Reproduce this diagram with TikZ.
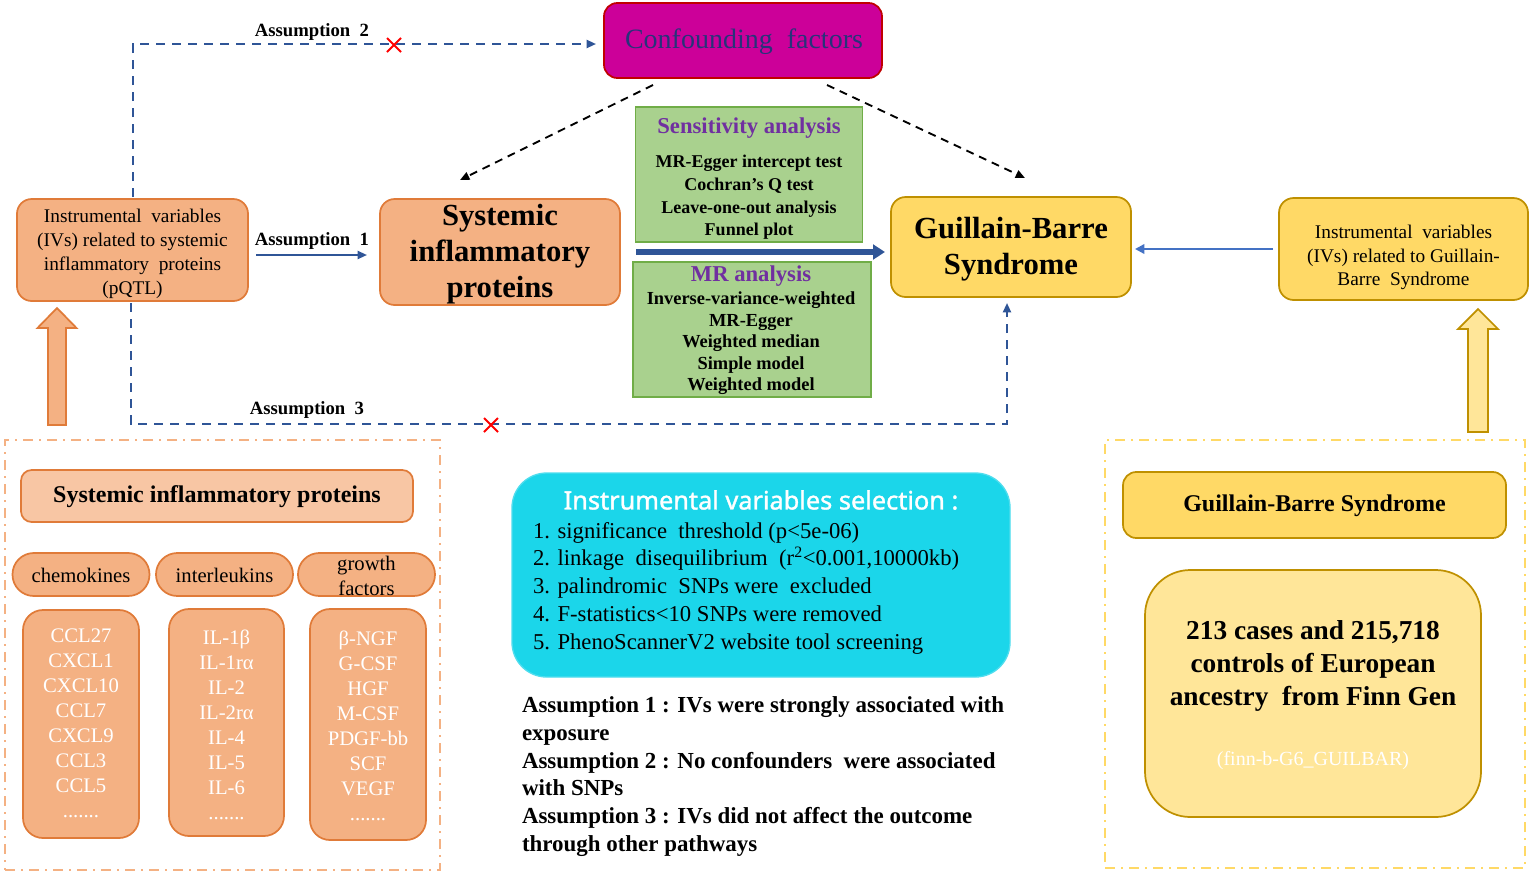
\documentclass[tikz,border=0pt]{standalone}
\usepackage{fontspec}
\setmainfont{Liberation Serif}
\newfontfamily\titlesans[AutoFakeBold=1.3]{Noto Sans}
\usetikzlibrary{arrows.meta,shapes.misc,calc}
\definecolor{orF}{HTML}{F4B183}
\definecolor{orD}{HTML}{E07B39}
\definecolor{orH}{HTML}{F8C6A4}
\definecolor{yeF}{HTML}{FFD966}
\definecolor{yeD}{HTML}{BF9000}
\definecolor{yeL}{HTML}{FFE699}
\definecolor{grF}{HTML}{A9D18E}
\definecolor{grD}{HTML}{70AD47}
\definecolor{cfF}{HTML}{CC0099}
\definecolor{cfD}{HTML}{C00000}
\definecolor{cfT}{HTML}{28337A}
\definecolor{puT}{HTML}{7030A0}
\definecolor{blD}{HTML}{2F5597}
\definecolor{blL}{HTML}{4472C4}
\definecolor{cyF}{HTML}{1BD6EA}
\definecolor{cyD}{HTML}{4FDDEE}
\begin{document}
\begin{tikzpicture}[x=0.75pt,y=-0.75pt,
  every node/.style={inner sep=0pt, outer sep=0pt},
  obox/.style={draw=orD, fill=orF, line width=1.3pt, rounded corners=11pt},
  ybox/.style={draw=yeD, fill=yeF, line width=1.3pt, rounded corners=11pt},
  gbox/.style={draw=grD, fill=grF, line width=1.3pt},
  dblue/.style={draw=blD, line width=1.5pt, dash pattern=on 7pt off 5pt},
  dblack/.style={draw=black, line width=1.4pt, dash pattern=on 6pt off 4.5pt, -{Triangle[length=7pt,width=6pt]}},
  dashdot/.style={line width=1.8pt, dash pattern=on 7.5pt off 4.5pt on 1.5pt off 4.5pt},
  xmark/.style={cross out, draw=red, line width=1.5pt, minimum size=10.5pt},
  lbl/.style={font=\bfseries\fontsize{14}{16}\selectfont},
  celltxt/.style={text=white, align=center, font=\fontsize{15.5}{18.75}\selectfont},
  pill/.style={obox, rounded corners=16pt, minimum width=102.75pt, minimum height=32.25pt},
  listbox/.style={obox, rounded corners=15pt, minimum width=87pt},
]
\useasboundingbox (0,0) rectangle (1535,879);

% ---------- top row ----------
\node[draw=cfD, fill=cfF, line width=1.3pt, rounded corners=10pt, minimum width=208.5pt, minimum height=56.25pt] (conf) at (743,40.5) {};
\node[text=cfT, font=\fontsize{21}{24}\selectfont] (conft) at (744,42) {Confounding\ \ factors};

\node[obox, minimum width=173.25pt, minimum height=76.5pt] (ivl) at (132.5,250) {};
\node[align=center, font=\fontsize{14.5}{18}\selectfont] (ivlt) at (132.5,253.5) {Instrumental\ \ variables\\(IVs) related to systemic\\inflammatory\ \ proteins\\(pQTL)};

\node[obox, minimum width=180pt, minimum height=79.5pt] (sip) at (500,252) {};
\node[align=center, font=\bfseries\fontsize{23}{27}\selectfont] (sipt) at (500,254) {Systemic\\inflammatory\\proteins};

\node[gbox, minimum width=170.25pt, minimum height=101.25pt] (sens) at (749,174.5) {};
\node[text=puT, font=\bfseries\fontsize{17}{20}\selectfont] (senst) at (749,128) {Sensitivity analysis};
\node[align=center, font=\bfseries\fontsize{13.5}{17}\selectfont] (sensl) at (749,197.5) {MR-Egger intercept test\\Cochran’s Q test\\Leave-one-out analysis\\Funnel plot};

\node[gbox, minimum width=178.5pt, minimum height=101.25pt] (mr) at (752,329.5) {};
\node[text=puT, font=\bfseries\fontsize{17}{20}\selectfont] (mrt) at (751,276) {MR analysis};
\node[align=center, font=\bfseries\fontsize{13.8}{16.1}\selectfont] (mrl) at (751,343.5) {Inverse-variance-weighted\\MR-Egger\\Weighted median\\Simple model\\Weighted model};

\node[ybox, minimum width=180pt, minimum height=75pt] (gbs) at (1011,247) {};
\node[align=center, font=\bfseries\fontsize{23}{27}\selectfont] (gbst) at (1011,249) {Guillain-Barre\\Syndrome};

\node[ybox, minimum width=186.75pt, minimum height=76.5pt] (ivr) at (1403.5,249) {};
\node[align=center, font=\fontsize{14.5}{17.6}\selectfont] (ivrt) at (1403.5,257.5) {Instrumental\ \ variables\\(IVs) related to Guillain-\\Barre\ \ Syndrome};

% ---------- connectors ----------
\draw[blD, line width=1.5pt, -{Triangle[length=7pt,width=6pt]}] ($(ivl.east)+(8,5)$) -- ($(ivl.east -| sip.west)+(-13,5)$);
\node[lbl] (a1l) at (312,241) {Assumption\ \ 1};

\draw[dblue, -{Triangle[length=7pt,width=6pt]}] ($(ivl.north)+(0.5,-2)$) |- ($(conf.west)+(-8,3.5)$);
\node[lbl] (a2l) at (312,32) {Assumption\ \ 2};
\node[xmark] (x2) at (394,45) {};

\coordinate (a3c) at ($(gbs.south)+(-4,127)$);
\draw[dblue, -{Triangle[length=7pt,width=6pt]}] ($(ivl.south)+(-1.5,2)$) |- (a3c) -- ($(gbs.south)+(-4,6)$);
\node[lbl] (a3l) at (307,410) {Assumption\ \ 3};
\node[xmark] (x3) at (491,425) {};

\draw[dblack] ($(conf.south)+(-90,7)$) -- ($(sip.north)+(-40,-19)$);
\draw[dblack] ($(conf.south)+(84,7)$) -- ($(gbs.north)+(14,-19)$);

\draw[blD, line width=4.5pt, -{Triangle[length=9pt,width=11pt]}] ($(sip.east)+(16,0)$) -- ($(sip.east -| gbs.west)+(-6,0)$);

\draw[blL, line width=1.8pt, -{Triangle[length=7pt,width=7pt]}] ($(ivr.west)+(-6,0)$) -- ($(ivr.west -| gbs.east)+(4,0)$);

% hollow arrows
\draw[draw=orD, fill=orF, line width=1.3pt] (48,425) -- (48,328) -- (37.5,328) -- (57,308) -- (76.5,328) -- (66,328) -- (66,425) -- cycle;
\draw[draw=yeD, fill=yeL, line width=1.3pt] (1468,432) -- (1468,329) -- (1458,329) -- (1478,309) -- (1498,329) -- (1488,329) -- (1488,432) -- cycle;

% ---------- left panel ----------
\node[draw=orF, dashdot, minimum width=326.25pt, minimum height=322.5pt] (ldash) at (222.5,655) {};
\node[obox, fill=orH, rounded corners=8pt, minimum width=294pt, minimum height=39pt] (hdr) at (217,496) {};
\node[font=\bfseries\fontsize{18}{21}\selectfont] (hdrt) at (217,497) {Systemic inflammatory proteins};

\node[pill] (p1) at (81,574.5) {};
\node[font=\fontsize{15.5}{18}\selectfont] (p1t) at (81,575) {chemokines};
\node[pill] (p2) at (224.5,574.5) {};
\node[font=\fontsize{15.5}{18}\selectfont] (p2t) at (224.5,575) {interleukins};
\node[pill] (p3) at (366.5,574.5) {};
\node[align=center, font=\fontsize{15.5}{18.75}\selectfont] (p3t) at (366.5,576) {growth\\factors};

\node[listbox, minimum height=171pt] (l1) at (81,724) {};
\node[celltxt] (l1t) at (81,723) {CCL27\\CXCL1\\CXCL10\\CCL7\\CXCL9\\CCL3\\CCL5\\.......};
\node[listbox, minimum height=170.25pt, minimum width=86.25pt] (l2) at (226.5,722.5) {};
\node[celltxt] (l2t) at (226.5,725) {IL-1β\\IL-1rα\\IL-2\\IL-2rα\\IL-4\\IL-5\\IL-6\\.......};
\node[listbox, minimum height=173.25pt] (l3) at (368,724.5) {};
\node[celltxt] (l3t) at (368,726) {β-NGF\\G-CSF\\HGF\\M-CSF\\PDGF-bb\\SCF\\VEGF\\.......};

% ---------- middle panel ----------
\node[draw=cyD, fill=cyF, line width=1pt, rounded corners=26pt, minimum width=373.5pt, minimum height=153pt] (ivsel) at (761,575) {};
\node[text=white, font=\titlesans\bfseries\fontsize{19}{23}\selectfont] (ivselt) at (761,500) {Instrumental variables selection :};
\node[anchor=west, align=left, font=\fontsize{17}{20.8}\selectfont] (ivsell) at (533,588) {1. significance\ \ threshold (p<5e-06)\\2. linkage\ \ disequilibrium\ \ (r\textsuperscript{2}<0.001,10000kb)\\3. palindromic\ \ SNPs were\ \ excluded\\4. F-statistics<10 SNPs were removed\\5. PhenoScannerV2 website tool screening};

\node[anchor=west, align=left, font=\bfseries\fontsize{17.2}{20.8}\selectfont] (asm) at (522,776.5) {Assumption 1 : IVs were strongly associated with\\exposure\\Assumption 2 : No confounders\ \ were associated\\with SNPs\\Assumption 3 : IVs did not affect the outcome\\through other pathways};

% ---------- right panel ----------
\node[draw=yeF, dashdot, minimum width=315pt, minimum height=321pt] (rdash) at (1315,654) {};
\node[ybox, rounded corners=10pt, minimum width=287.25pt, minimum height=49.5pt] (gbsh) at (1314.5,505) {};
\node[font=\bfseries\fontsize{18}{21}\selectfont] (gbsht) at (1314.5,506) {Guillain-Barre Syndrome};
\node[ybox, fill=yeL, rounded corners=34pt, minimum width=252pt, minimum height=185.25pt] (gbsd) at (1313,693.5) {};
\node[align=center, font=\bfseries\fontsize{20.5}{25}\selectfont] (gbsdt) at (1313,666) {213 cases and 215,718\\controls of European\\ancestry\ \ from Finn Gen};
\node[text=white, font=\fontsize{15}{18}\selectfont] (finn) at (1313,761) {(finn-b-G6\_GUILBAR)};
\end{tikzpicture}
\end{document}
